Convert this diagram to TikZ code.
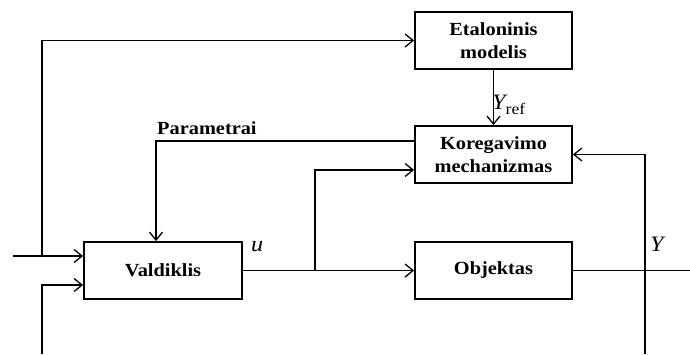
\documentclass[tikz,border=0pt]{standalone}
\usepackage{fontspec}
\setmainfont{Liberation Serif}[FakeStretch=1.1]
\usetikzlibrary{arrows.meta,positioning}
\tikzset{
  blk/.style={draw, line width=1.8bp, minimum width=157bp, minimum height=57bp,
    inner sep=0pt, align=center, font=\fontsize{18.5bp}{23.5bp}\selectfont\bfseries},
  wire/.style={line width=1.8bp},
  arr/.style={wire, -{Straight Barb[length=8bp,width=13bp,line width=1.3bp]}},
  lbl/.style={inner sep=0pt, font=\fontsize{18.5bp}{20bp}\selectfont\bfseries},
  sym/.style={inner sep=0pt, font=\fontsize{22bp}{24bp}\selectfont\itshape},
}
\newcommand{\subref}{\raisebox{-5bp}{\fontsize{16bp}{18bp}\selectfont\upshape ref}}
\begin{document}
\begin{tikzpicture}[x=1bp, y=-1bp]
\useasboundingbox (0,0) rectangle (690,354);

% blocks
\node[blk] (etal)  at (493.5,40.5)  {Etaloninis\\modelis};
\node[blk] (koreg) at (493.5,154.5) {Koregavimo\\mechanizmas};
\node[blk, minimum width=158bp] (vald) at (163,270.5) {Valdiklis};
\node[blk] (obj)   at (493.5,270.5) {Objektas};

% free ends and junctions
\coordinate (in1) at (13,256);
\coordinate (j1)  at (42,256);
\coordinate (in2) at (42,354);
\coordinate (par) at (156,141);
\coordinate (br)  at (315,270.5);
\coordinate (out) at (690,270.5);
\coordinate (yb)  at (645,354);

% reference input and its branch to the model
\draw[arr] (in1) -- ([yshift=14.5bp]vald.west);
\draw[arr] (j1) |- (etal.west);
\draw[arr] (in2) |- ([yshift=-14.5bp]vald.west);

% model output
\draw[arr] (etal.south) -- (koreg.north);

% adjusted parameters back to the controller
\draw[arr] ([yshift=13.5bp]koreg.west) -- (par) -- (par |- vald.north);

% control signal
\draw[arr] (vald.east) -- (obj.west);
\draw[arr] (br) |- ([yshift=-15.5bp]koreg.west);

% plant output and feedback
\draw[wire] (obj.east) -- (out);
\draw[arr] (yb) |- (koreg.east);

% labels
\node[lbl, anchor=base west] (lpar) at (157,134) {Parametrai};
\node[sym, anchor=base west] (lu) at (251,251) {u};
\node[sym, anchor=base west] (ly) at (650,251) {Y};
\node[sym, anchor=base west] (lyref) at (492,109) {Y\subref};
\end{tikzpicture}
\end{document}
